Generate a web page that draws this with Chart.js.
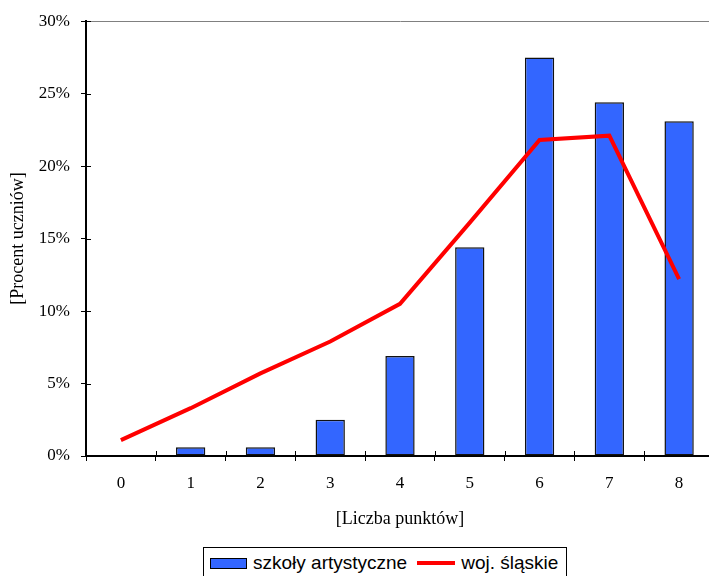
<!DOCTYPE html>
<html>
<head>
<meta charset="utf-8">
<script src="https://cdn.jsdelivr.net/npm/chart.js@4.4.1/dist/chart.umd.min.js"></script>
<style>
  html, body { margin: 0; padding: 0; background: #fff; overflow: hidden; }
  #wrap { position: relative; width: 716px; height: 576px; }
  #legend {
    position: absolute; left: 203px; top: 547px; height: 32px;
    box-sizing: border-box; border: 1px solid #000; background: #fff;
    display: flex; align-items: center; padding: 0 8px 0 6px;
    font-family: "Liberation Sans", Arial, sans-serif; font-size: 19px; color: #000;
  }
  #legend .item { display: flex; align-items: center; }
  #legend .item + .item { margin-left: 10px; }
  #legend .sw { margin-right: 6px; box-sizing: border-box; }
</style>
</head>
<body>
<div id="wrap">
  <canvas id="chart" width="716" height="576"></canvas>
  <div id="legend"></div>
</div>
<script>
const categories = ['0', '1', '2', '3', '4', '5', '6', '7', '8'];
const schoolValues = [0, 0.6, 0.6, 2.5, 6.9, 14.4, 27.5, 24.4, 23.1];
const regionValues = [1.1, 3.3, 5.7, 7.9, 10.5, 16.1, 21.8, 22.1, 12.2];
const seriesLabels = ['szkoły artystyczne', 'woj. śląskie'];

const serif = 'Liberation Serif';

// Excel style ticks cross the axis, Chart.js only draws the outer half
const crossTicks = {
  id: 'crossTicks',
  afterDraw(chart) {
    const { ctx, chartArea, scales: { x, y } } = chart;
    const step = (x.right - x.left) / categories.length;
    ctx.save();
    ctx.strokeStyle = '#000';
    ctx.lineWidth = 1;
    ctx.beginPath();
    for (let i = 0; i < categories.length; i++) {
      const px = Math.round(x.getPixelForValue(i) + step / 2) + 0.5;
      ctx.moveTo(px, chartArea.bottom);
      ctx.lineTo(px, chartArea.bottom - 5);
    }
    y.ticks.forEach((t) => {
      const py = Math.round(y.getPixelForValue(t.value)) + 0.5;
      ctx.moveTo(chartArea.left, py);
      ctx.lineTo(chartArea.left + 5, py);
    });
    ctx.stroke();
    ctx.restore();
  },
};

const chart = new Chart(document.getElementById('chart'), {
  type: 'bar',
  data: {
    labels: categories,
    datasets: [
      {
        type: 'bar',
        label: seriesLabels[0],
        data: schoolValues,
        backgroundColor: '#3366FF',
        borderColor: '#111',
        borderWidth: 1.5,
        borderSkipped: false,
        categoryPercentage: 0.42,
        barPercentage: 1,
        order: 2,
      },
      {
        type: 'line',
        label: seriesLabels[1],
        data: regionValues,
        borderColor: '#FF0000',
        borderWidth: 4,
        pointRadius: 0,
        tension: 0,
        order: 1,
      },
    ],
  },
  options: {
    responsive: false,
    animation: false,
    layout: { padding: { top: 20, left: 0, right: 2, bottom: 46 } },
    plugins: {
      legend: { display: false },
      tooltip: { enabled: false },
    },
    scales: {
      x: {
        afterFit: (s) => { s.height = 74; },
        border: { color: '#000', width: 2 },
        grid: { offset: true, drawOnChartArea: false, tickColor: '#000', tickLength: 5 },
        ticks: { color: '#000', padding: 12, font: { family: serif, size: 17 } },
        title: {
          display: true,
          text: '[Liczba punktów]',
          color: '#000',
          padding: { top: 4, bottom: 0 },
          font: { family: serif, size: 18 },
        },
      },
      y: {
        min: 0,
        max: 30,
        afterFit: (s) => { s.width = 86; },
        border: { color: '#000', width: 2 },
        grid: {
          color: (ctx) => (ctx.tick && ctx.tick.value === 30 ? '#808080' : 'transparent'),
          tickColor: '#000',
          tickLength: 5,
        },
        ticks: {
          stepSize: 5,
          color: '#000',
          padding: 11,
          font: { family: serif, size: 17 },
          callback: (v) => `${v}%`,
        },
        title: {
          display: true,
          text: '[Procent uczniów]',
          color: '#000',
          padding: { top: 7, bottom: 0 },
          font: { family: serif, size: 18 },
        },
      },
    },
  },
  plugins: [crossTicks],
});

// legend with a frame, built from the datasets
const legendEl = document.getElementById('legend');
chart.data.datasets.forEach((ds) => {
  const item = document.createElement('div');
  item.className = 'item';
  const sw = document.createElement('span');
  sw.className = 'sw';
  if (ds.type === 'line') {
    sw.style.cssText = `display:inline-block;width:38px;height:4px;background:${ds.borderColor}`;
  } else {
    sw.style.cssText = `display:inline-block;width:37px;height:11px;background:${ds.backgroundColor};border:1px solid #000`;
  }
  const txt = document.createElement('span');
  txt.textContent = ds.label;
  item.appendChild(sw);
  item.appendChild(txt);
  legendEl.appendChild(item);
});
</script>
</body>
</html>
